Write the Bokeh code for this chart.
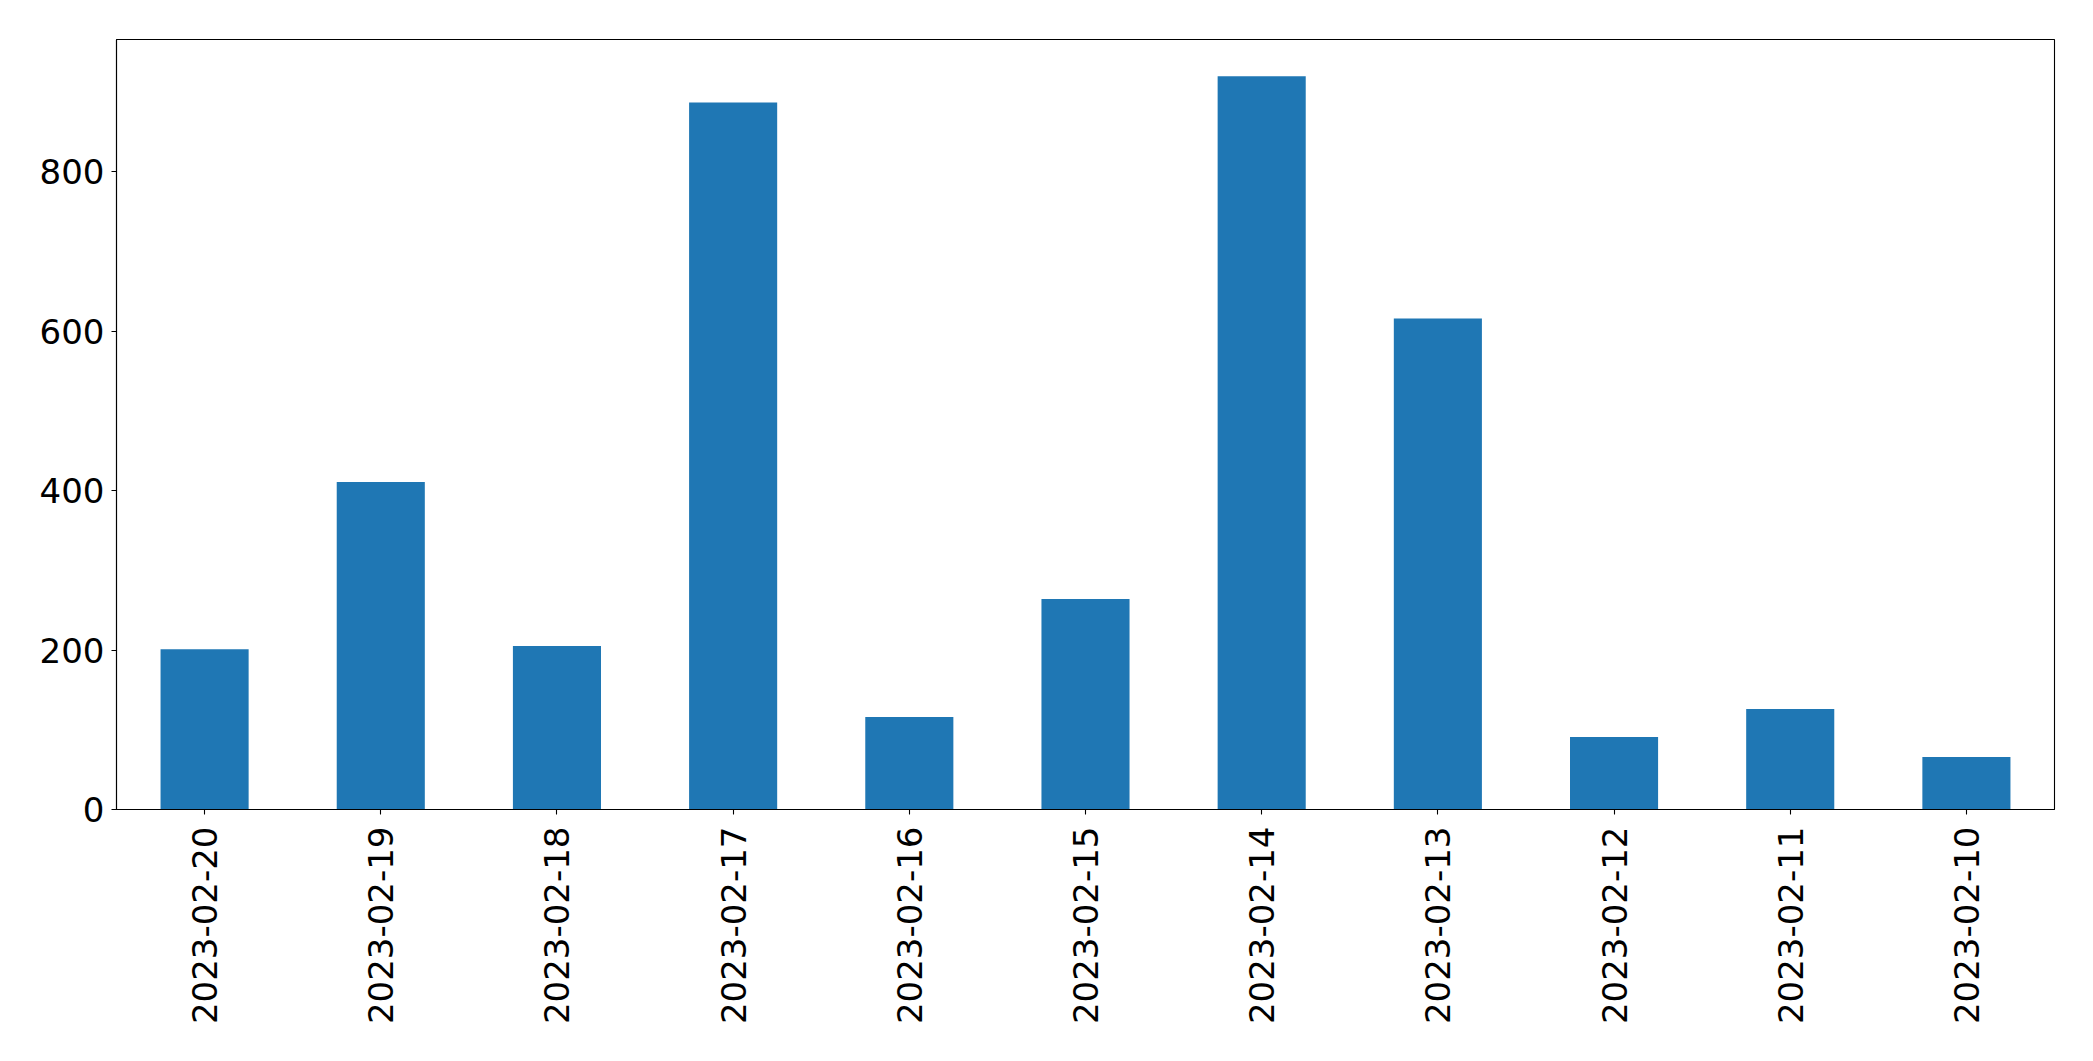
import math
from bokeh.plotting import figure
from bokeh.models import FactorRange, Range1d, FixedTicker, ColumnDataSource
from bokeh.embed import file_html
from bokeh.resources import INLINE

dates = ["2023-02-20", "2023-02-19", "2023-02-18", "2023-02-17", "2023-02-16",
         "2023-02-15", "2023-02-14", "2023-02-13", "2023-02-12", "2023-02-11",
         "2023-02-10"]
counts = [201, 411, 205, 887, 116, 264, 920, 616, 91, 126, 66]
y_ticks = [0, 200, 400, 600, 800]

source = ColumnDataSource(data=dict(date=dates, count=counts))

p = figure(
    x_range=FactorRange(*dates, range_padding=0),
    y_range=Range1d(0, 966),
    width=2077, height=1045,
    output_backend="svg", toolbar_location=None,
    min_border_left=116, min_border_right=23,
    min_border_top=39, min_border_bottom=236,
)
p.vbar(x="date", top="count", width=0.5, source=source,
       fill_color="#1f77b4", line_color=None)

p.xgrid.visible = False
p.ygrid.visible = False
p.outline_line_color = "black"
p.outline_line_width = 1.1
p.background_fill_color = "white"
p.border_fill_color = "white"

p.yaxis.ticker = FixedTicker(ticks=y_ticks)
p.yaxis.minor_tick_line_color = None

for ax in (p.xaxis[0], p.yaxis[0]):
    ax.axis_line_color = "black"
    ax.axis_line_width = 1.1
    ax.major_tick_line_color = "black"
    ax.major_tick_line_width = 1.1
    ax.major_tick_out = 5
    ax.major_tick_in = 0
    ax.major_label_text_font = "DejaVu Sans"
    ax.major_label_text_font_size = "34px"
    ax.major_label_text_color = "black"

p.xaxis.major_label_orientation = math.pi / 2
p.xaxis.major_label_standoff = 12
p.yaxis.major_label_standoff = 7
p.xaxis.group_text_font_size = "0px"

open("out.html", "w").write(file_html(p, INLINE))
